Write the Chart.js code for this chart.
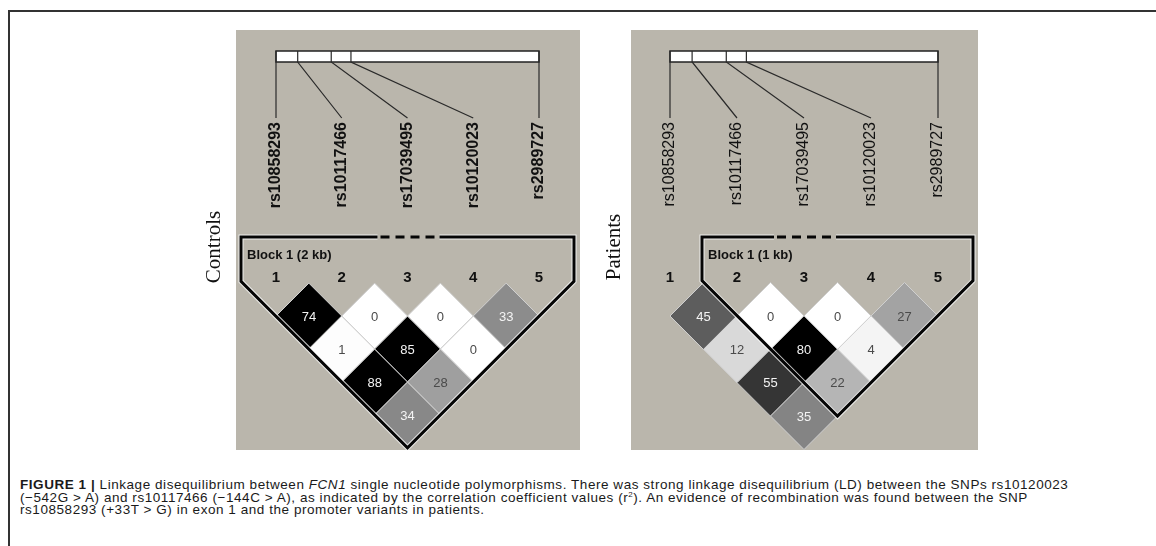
<!DOCTYPE html>
<html>
<head>
<meta charset="utf-8">
<script src="https://cdn.jsdelivr.net/npm/chart.js@4.4.1/dist/chart.umd.min.js"></script>
<style>
  body { margin: 0; background: #fff; width: 1156px; height: 546px; position: relative; overflow: hidden; }
  #frame { position: absolute; left: 8px; top: 10px; width: 1200px; height: 600px; border-left: 2px solid #333; border-top: 2px solid #333; }
  canvas { position: absolute; }
  #ctl { left: 190px; top: 30px; }
  #pat { left: 590px; top: 30px; }
  #caption { position: absolute; left: 20px; top: 479px; font-family: "Liberation Sans", Arial, sans-serif; font-size: 13.5px; letter-spacing: 0.55px; line-height: 12.5px; color: #1a1a1a; white-space: nowrap; }
  #caption sup { font-size: 8px; line-height: 0; }
</style>
</head>
<body>
<div id="frame"></div>
<canvas id="ctl" width="390" height="420"></canvas>
<canvas id="pat" width="390" height="420"></canvas>
<div id="caption">
  <div><b>FIGURE 1 |</b> Linkage disequilibrium between <i>FCN1</i> single nucleotide polymorphisms. There was strong linkage disequilibrium (LD) between the SNPs rs10120023</div>
  <div>(−542G &gt; A) and rs10117466 (−144C &gt; A), as indicated by the correlation coefficient values (r<sup>2</sup>). An evidence of recombination was found between the SNP</div>
  <div>rs10858293 (+33T &gt; G) in exon 1 and the promoter variants in patients.</div>
</div>
<script>
// SNPs along the FCN1 promoter / exon 1 region
const snpNames = ['rs10858293', 'rs10117466', 'rs17039495', 'rs10120023', 'rs2989727'];
const snpPosKb = [0, 0.165, 0.42, 0.57, 2.0];
const snpNumbers = ['1', '2', '3', '4', '5'];

// marker pairs, row by row (adjacent pairs first)
const pairs = [[1, 2], [2, 3], [3, 4], [4, 5], [1, 3], [2, 4], [3, 5], [1, 4], [2, 5], [1, 5]];

// r2 x 100 for each pair
const controlsR2 = [74, 0, 0, 33, 1, 85, 0, 88, 28, 34];
const patientsR2 = [45, 0, 0, 27, 12, 80, 4, 55, 22, 35];

const controlsBlock = [1, 5];
const patientsBlock = [2, 5];
const controlsBlockLabel = 'Block 1 (2 kb)';
const patientsBlockLabel = 'Block 1 (1 kb)';

// r2 -> grey level, saturating to black
function grey(v) {
  return Math.max(0, 255 * (1 - Math.pow(v / 68, 1.1)));
}
function shade(v) {
  const g = Math.round(grey(v));
  return `rgb(${g},${g},${g})`;
}
function textShade(v) {
  return grey(v) < 140 ? '#f4f4f4' : '#4a4a4a';
}

function halfStep(chart) {
  const xs = chart.scales.x;
  if (!xs) return 32;
  return (xs.getPixelForValue(2) - xs.getPixelForValue(1)) / 2;
}

const ldPanel = {
  id: 'ldPanel',
  beforeDraw(chart, args, o) {
    const ctx = chart.ctx;
    const xs = chart.scales.x;
    const top = chart.chartArea.top;
    const px = i => xs.getPixelForValue(i);
    const span = snpPosKb[snpPosKb.length - 1] - snpPosKb[0];
    const phys = kb => px(1) + (kb - snpPosKb[0]) / span * (px(5) - px(1));

    ctx.save();
    // panel background
    ctx.fillStyle = '#bab6ac';
    ctx.fillRect(o.bg[0], o.bg[1], o.bg[2] - o.bg[0], o.bg[3] - o.bg[1]);

    // group title
    ctx.save();
    ctx.translate(o.titleX, top - 69);
    ctx.rotate(-Math.PI / 2);
    ctx.fillStyle = '#111';
    ctx.font = '21px "Liberation Serif", "Times New Roman", serif';
    ctx.textAlign = 'center';
    ctx.textBaseline = 'middle';
    ctx.fillText(o.title, 0, 0);
    ctx.restore();

    // gene bar with SNP ticks
    const barT = top - 265, barB = top - 254;
    ctx.fillStyle = '#fff';
    ctx.fillRect(phys(snpPosKb[0]), barT, phys(snpPosKb[4]) - phys(snpPosKb[0]), barB - barT);
    ctx.strokeStyle = '#222';
    ctx.lineWidth = 1.5;
    ctx.strokeRect(phys(snpPosKb[0]), barT, phys(snpPosKb[4]) - phys(snpPosKb[0]), barB - barT);
    ctx.lineWidth = 1.2;
    ctx.strokeStyle = '#2a2a2a';
    snpPosKb.forEach((kb, k) => {
      const x0 = phys(kb), x1 = px(k + 1);
      ctx.beginPath();
      ctx.moveTo(x0, barT);
      ctx.lineTo(x0, barB);
      ctx.lineTo(x1, top - 198);
      ctx.stroke();
    });

    // SNP names
    ctx.fillStyle = '#111';
    ctx.font = (o.boldNames ? 'bold ' : '') + '16px "Liberation Sans", Arial, sans-serif';
    snpNames.forEach((name, k) => {
      ctx.save();
      ctx.translate(px(k + 1), top - 194);
      ctx.rotate(-Math.PI / 2);
      ctx.textAlign = 'right';
      ctx.textBaseline = 'middle';
      ctx.fillText(name, 0, 0);
      ctx.restore();
    });

    // marker numbers
    ctx.font = 'bold 15px "Liberation Sans", Arial, sans-serif';
    ctx.textAlign = 'center';
    ctx.textBaseline = 'middle';
    snpNumbers.forEach((n, k) => ctx.fillText(n, px(k + 1), top - 38));

    // block label
    ctx.font = 'bold 13px "Liberation Sans", Arial, sans-serif';
    ctx.textAlign = 'left';
    ctx.fillText(o.blockLabel, px(o.block[0]) - 35 + 6, top - 61);
    ctx.restore();
  },
  afterDatasetsDraw(chart, args, o) {
    const ctx = chart.ctx;
    const xs = chart.scales.x, ys = chart.scales.y;
    const top = chart.chartArea.top;
    const px = i => xs.getPixelForValue(i);
    const r = halfStep(chart);
    const meta = chart.getDatasetMeta(0);
    const vals = chart.data.datasets[0].data;

    ctx.save();
    // r2 values inside the diamonds
    ctx.font = '13px "Liberation Sans", Arial, sans-serif';
    ctx.textAlign = 'center';
    ctx.textBaseline = 'middle';
    meta.data.forEach((el, k) => {
      ctx.fillStyle = textShade(vals[k].v);
      ctx.fillText(String(vals[k].v), el.x, el.y + 1);
    });

    // haplotype block outline
    const [a, b] = o.block;
    const d = 35;
    const L = px(a) - d, R = px(b) + d, T = top - 79;
    const botX = (px(a) + px(b)) / 2, botY = ys.getPixelForValue(b - a) + r;
    const leftY = botY - (botX - L), rightY = botY - (R - botX);
    const g0 = px(3) - 30, g1 = px(3) + 32;
    const outline = () => {
      ctx.beginPath();
      ctx.moveTo(g1, T);
      ctx.lineTo(R, T);
      ctx.lineTo(R, rightY);
      ctx.lineTo(botX, botY);
      ctx.lineTo(L, leftY);
      ctx.lineTo(L, T);
      ctx.lineTo(g0, T);
      ctx.stroke();
    };
    ctx.lineJoin = 'miter';
    ctx.strokeStyle = 'rgba(255,255,255,0.8)';
    ctx.lineWidth = 5;
    outline();
    ctx.strokeStyle = '#050505';
    ctx.lineWidth = 3;
    outline();
    ctx.setLineDash([9, 6]);
    ctx.beginPath();
    ctx.moveTo(g0 + 3, T);
    ctx.lineTo(g1, T);
    ctx.stroke();
    ctx.restore();
  }
};

function ldChart(id, title, r2, block, blockLabel, look) {
  return new Chart(document.getElementById(id), {
    type: 'scatter',
    data: {
      datasets: [{
        data: pairs.map((p, k) => ({ x: (p[0] + p[1]) / 2, y: p[1] - p[0], v: r2[k] })),
        pointStyle: 'rectRot',
        pointRadius: c => halfStep(c.chart),
        pointHoverRadius: c => halfStep(c.chart),
        backgroundColor: c => shade(c.raw ? c.raw.v : 0),
        borderColor: '#cfcfcf',
        borderWidth: 1,
        clip: false
      }]
    },
    options: {
      responsive: false,
      animation: false,
      events: [],
      layout: { padding: look.padding },
      scales: {
        x: { type: 'linear', min: 1, max: 5, display: false },
        y: { type: 'linear', min: 1, max: 4, reverse: true, display: false }
      },
      plugins: {
        legend: { display: false },
        tooltip: { enabled: false },
        ldPanel: { title, block, blockLabel, bg: look.bg, titleX: look.titleX, boldNames: look.boldNames }
      }
    },
    plugins: [ldPanel]
  });
}

ldChart('ctl', 'Controls', controlsR2, controlsBlock, controlsBlockLabel,
  { padding: { left: 86, right: 41, top: 286, bottom: 35 }, bg: [46, 0, 390, 420], titleX: 24, boldNames: true });
ldChart('pat', 'Patients', patientsR2, patientsBlock, patientsBlockLabel,
  { padding: { left: 80, right: 42, top: 286, bottom: 34 }, bg: [41, 0, 388, 420], titleX: 24, boldNames: false });
</script>
</body>
</html>
